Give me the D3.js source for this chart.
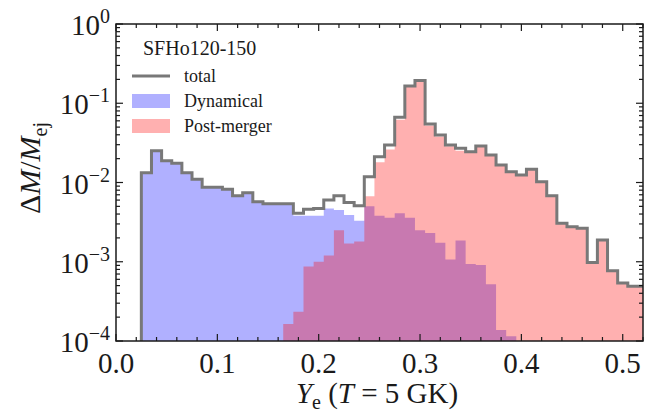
<!DOCTYPE html>
<html lang="en">
<head>
<meta charset="UTF-8">
<title>Ye distribution SFHo120-150</title>
<script src="https://d3js.org/d3.v7.min.js"></script>
<style>
    body { margin: 0; background: #fff; }
    svg text { font-family: "Liberation Serif", "DejaVu Serif", serif; fill: #1a1a1a; }
</style>
</head>
<body>
<svg id="chart" width="645" height="413"></svg>
<script>
    // bin centres in Ye, bin width 0.01
    var yeBins = [0.03, 0.04, 0.05, 0.06, 0.07, 0.08, 0.09, 0.10, 0.11, 0.12,
        0.13, 0.14, 0.15, 0.16, 0.17, 0.18, 0.19, 0.20, 0.21, 0.22,
        0.23, 0.24, 0.25, 0.26, 0.27, 0.28, 0.29, 0.30, 0.31, 0.32,
        0.33, 0.34, 0.35, 0.36, 0.37, 0.38, 0.39, 0.40, 0.41, 0.42,
        0.43, 0.44, 0.45, 0.46, 0.47, 0.48, 0.49, 0.50, 0.51, 0.52];

    var totalMass = [0.0133, 0.0252, 0.0188, 0.0175, 0.0133, 0.011, 0.0087, 0.0087, 0.0082, 0.0068,
        0.0074, 0.0057, 0.0054, 0.0054, 0.0054, 0.0041, 0.0046, 0.0047, 0.0060, 0.0068,
        0.0056, 0.0051, 0.0118, 0.0212, 0.0297, 0.0664, 0.165, 0.193, 0.0547, 0.0398,
        0.0297, 0.027, 0.0245, 0.0289, 0.0222, 0.0166, 0.0137, 0.0124, 0.0147, 0.0102,
        0.0068, 0.00306, 0.00277, 0.00264, 0.00098, 0.00188, 0.00077, 0.00054, 0.00049, 0.00049];

    var dynamicalMass = [0.0133, 0.0252, 0.0188, 0.0175, 0.0133, 0.011, 0.0087, 0.0087, 0.0082, 0.0068,
        0.0074, 0.0057, 0.0054, 0.0054, 0.0052, 0.0038, 0.0038, 0.0038, 0.0047, 0.0045,
        0.0039, 0.0033, 0.0050, 0.0038, 0.0036, 0.0041, 0.0036, 0.0025, 0.0023, 0.00174,
        0.00107, 0.00185, 0.00094, 0.00091, 0.00052, 0.000138, 0.000115, 0, 0, 0,
        0, 0, 0, 0, 0, 0, 0, 0, 0, 0];

    var postMergerMass = [0, 0, 0, 0, 0, 0, 0, 0, 0, 0,
        0, 0, 0, 0, 0.000164, 0.000234, 0.00087, 0.0010, 0.0012, 0.0025,
        0.0017, 0.0018, 0.0067, 0.018, 0.026, 0.062, 0.161, 0.19, 0.0524, 0.038,
        0.0286, 0.0251, 0.0236, 0.028, 0.0217, 0.0165, 0.0136, 0.0124, 0.0147, 0.0102,
        0.0068, 0.00306, 0.00277, 0.00264, 0.00098, 0.00188, 0.00077, 0.00054, 0.00049, 0.00049];

    var xTicks = [0.0, 0.1, 0.2, 0.3, 0.4, 0.5];
    var yTickExponents = [0, -1, -2, -3, -4];
    var legendTitle = "SFHo120-150";
    var legendLabels = ["total", "Dynamical", "Post-merger"];

    var binWidth = 0.01;
    var plotLeft = 116, plotRight = 643, plotTop = 24, plotBottom = 341;

    var svg = d3.select("#chart");

    var x = d3.scaleLinear().domain([0, 0.52]).range([plotLeft, plotRight]);
    var y = d3.scaleLog().domain([1e-4, 1]).range([plotBottom, plotTop]);

    svg.append("defs").append("clipPath").attr("id", "plot-clip")
        .append("rect")
        .attr("x", plotLeft).attr("y", plotTop)
        .attr("width", plotRight - plotLeft).attr("height", plotBottom - plotTop);

    // step outline of a histogram, zero bins drop below the axis
    function stepPoints(values) {
        var below = plotBottom + 20;
        var pts = [[x(yeBins[0] - binWidth / 2), below]];
        yeBins.forEach(function (c, i) {
            var v = values[i] > 0 ? y(values[i]) : below;
            pts.push([x(c - binWidth / 2), v]);
            pts.push([x(c + binWidth / 2), v]);
        });
        pts.push([x(yeBins[yeBins.length - 1] + binWidth / 2), below]);
        return pts;
    }

    var line = d3.line();
    var g = svg.append("g").attr("clip-path", "url(#plot-clip)");

    g.append("path")
        .attr("d", line(stepPoints(dynamicalMass)) + "Z")
        .attr("fill", "blue")
        .attr("fill-opacity", 0.31);

    g.append("path")
        .attr("d", line(stepPoints(postMergerMass)) + "Z")
        .attr("fill", "red")
        .attr("fill-opacity", 0.31);

    g.append("path")
        .attr("d", line(stepPoints(totalMass)))
        .attr("fill", "none")
        .attr("stroke", "#787878")
        .attr("stroke-width", 3)
        .attr("stroke-linejoin", "miter");

    // ticks, all pointing inward on all four sides
    var ticks = svg.append("g").attr("stroke", "#1a1a1a");
    d3.range(0, 0.5201, 0.02).forEach(function (t) {
        var major = Math.abs(t * 10 - Math.round(t * 10)) < 1e-6;
        var len = major ? 7 : 4;
        var px = x(t);
        ticks.append("line").attr("x1", px).attr("x2", px).attr("y1", plotBottom).attr("y2", plotBottom - len).attr("stroke-width", 1.2);
        ticks.append("line").attr("x1", px).attr("x2", px).attr("y1", plotTop).attr("y2", plotTop + len).attr("stroke-width", 1.2);
    });
    for (var e = -4; e <= 0; e++) {
        for (var m = 1; m <= 9; m++) {
            var val = m * Math.pow(10, e);
            if (val > 1) break;
            var len = m === 1 ? 7 : 4;
            var py = y(val);
            ticks.append("line").attr("x1", plotLeft).attr("x2", plotLeft + len).attr("y1", py).attr("y2", py).attr("stroke-width", 1.2);
            ticks.append("line").attr("x1", plotRight).attr("x2", plotRight - len).attr("y1", py).attr("y2", py).attr("stroke-width", 1.2);
        }
    }

    svg.append("rect")
        .attr("x", plotLeft).attr("y", plotTop)
        .attr("width", plotRight - plotLeft).attr("height", plotBottom - plotTop)
        .attr("fill", "none")
        .attr("stroke", "#1a1a1a")
        .attr("stroke-width", 1.5);

    // tick labels
    svg.append("g").selectAll("text")
        .data(xTicks)
        .enter().append("text")
        .attr("x", function (d) { return x(d); })
        .attr("y", 373)
        .attr("text-anchor", "middle")
        .attr("font-size", 29)
        .text(function (d) { return d.toFixed(1); });

    var yLabels = svg.append("g").selectAll("text")
        .data(yTickExponents)
        .enter().append("text")
        .attr("x", 110)
        .attr("y", function (d) { return y(Math.pow(10, d)) + 11; })
        .attr("text-anchor", "end")
        .attr("font-size", 29);
    yLabels.append("tspan").text("10");
    yLabels.append("tspan")
        .attr("font-size", 20)
        .attr("dy", -12)
        .text(function (d) { return d === 0 ? "0" : "\u2212" + (-d); });

    // axis labels
    var xl = svg.append("text")
        .attr("x", 377).attr("y", 403)
        .attr("text-anchor", "middle")
        .attr("font-size", 29);
    xl.append("tspan").attr("font-style", "italic").text("Y");
    xl.append("tspan").attr("font-size", 20).attr("dy", 6).text("e");
    xl.append("tspan").attr("dy", -6).text(" (");
    xl.append("tspan").attr("font-style", "italic").text("T");
    xl.append("tspan").text(" = 5 GK)");

    var yl = svg.append("text")
        .attr("transform", "translate(40,168) rotate(-90)")
        .attr("text-anchor", "middle")
        .attr("font-size", 30);
    yl.append("tspan").text("\u0394");
    yl.append("tspan").attr("font-style", "italic").text("M");
    yl.append("tspan").text("/");
    yl.append("tspan").attr("font-style", "italic").text("M");
    yl.append("tspan").attr("font-size", 20).attr("dy", 7).text("ej");

    // legend
    var legend = svg.append("g");
    legend.append("text").attr("x", 143).attr("y", 55).attr("font-size", 20).text(legendTitle);
    legend.append("line")
        .attr("x1", 132).attr("x2", 170).attr("y1", 76).attr("y2", 76)
        .attr("stroke", "#787878").attr("stroke-width", 3);
    legend.append("rect").attr("x", 132).attr("y", 94).attr("width", 38).attr("height", 14)
        .attr("fill", "blue").attr("fill-opacity", 0.31);
    legend.append("rect").attr("x", 132).attr("y", 119).attr("width", 38).attr("height", 14)
        .attr("fill", "red").attr("fill-opacity", 0.31);
    legend.selectAll("text.entry")
        .data(legendLabels)
        .enter().append("text")
        .attr("class", "entry")
        .attr("x", 184)
        .attr("y", function (d, i) { return 82 + i * 25; })
        .attr("font-size", 18)
        .text(function (d) { return d; });
</script>
</body>
</html>
